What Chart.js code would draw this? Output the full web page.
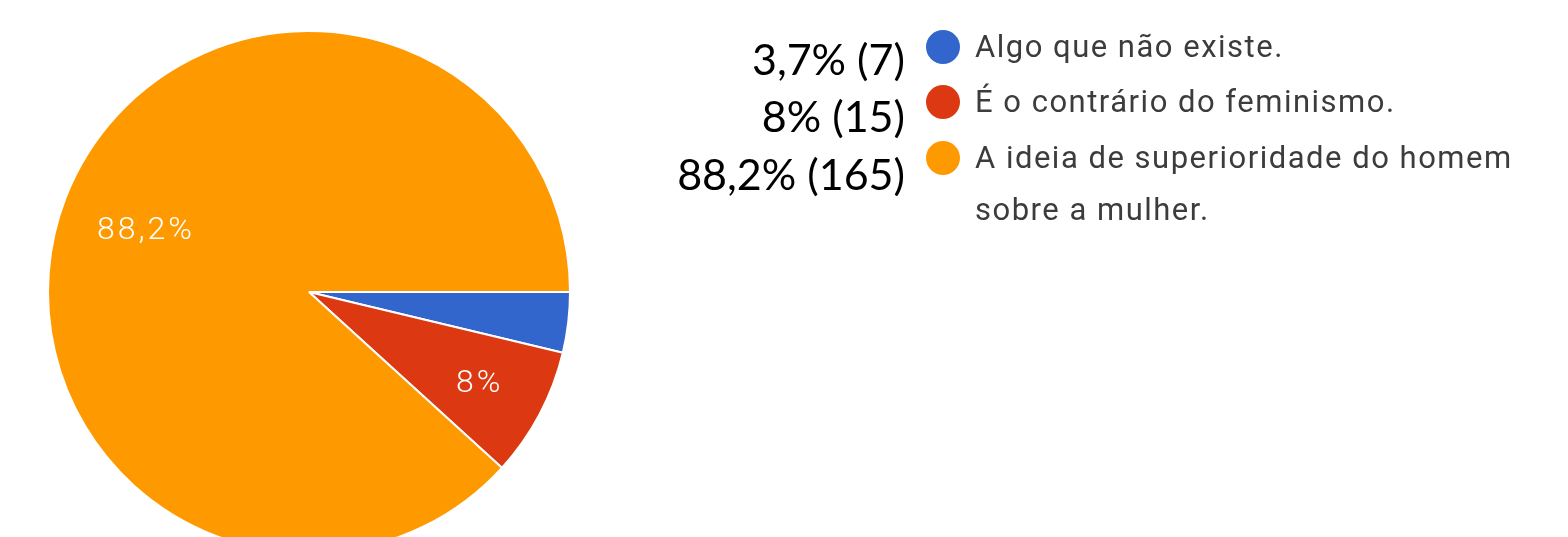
<!DOCTYPE html>
<html>
<head>
<meta charset="utf-8">
<script src="https://cdn.jsdelivr.net/npm/chart.js@4/dist/chart.umd.min.js"></script>
<style>
  html, body { margin: 0; padding: 0; background: #fff; overflow: hidden; width: 1568px; height: 537px; }
  #wrap { position: absolute; left: 0; top: 0; width: 1568px; height: 600px; }
  #legend { position: absolute; left: 0; top: 0; width: 1568px; height: 537px; pointer-events: none; }
  .num { position: absolute; right: 663px; font-family: Lato, "Open Sans", sans-serif; font-size: 43px; color: #000; line-height: 1; white-space: nowrap; }
  .dot { position: absolute; width: 34px; height: 34px; border-radius: 50%; }
  .lab { position: absolute; left: 975px; font-family: Roboto, Arial, sans-serif; font-size: 31px; letter-spacing: 1.5px; color: #3c3c3c; line-height: 52px; white-space: nowrap; }
</style>
</head>
<body>
<div id="wrap"><canvas id="c" width="1568" height="600"></canvas></div>
<div id="legend"></div>
<script>
// ---- data ----
const categories = [
  ['Algo que não existe.'],
  ['É o contrário do feminismo.'],
  ['A ideia de superioridade do homem', 'sobre a mulher.']
];
const counts = [7, 15, 165];
const percentText = ['3,7%', '8%', '88,2%'];
const sliceLabels = [null, '8%', '88,2%'];
const colors = ['#3366CC', '#DC3912', '#FF9900'];

// ---- slice label plugin ----
const sliceLabelPlugin = {
  id: 'sliceLabels',
  afterDatasetsDraw(chart, args, opts) {
    const ctx = chart.ctx;
    const meta = chart.getDatasetMeta(0);
    ctx.save();
    ctx.fillStyle = '#fff';
    ctx.font = '300 32px Roboto, Arial, sans-serif';
    ctx.letterSpacing = '3px';
    ctx.textAlign = 'center';
    ctx.textBaseline = 'middle';
    meta.data.forEach((arc, i) => {
      const t = sliceLabels[i];
      if (!t) return;
      const p = arc.getProps(['x', 'y', 'startAngle', 'endAngle', 'outerRadius'], true);
      const mid = (p.startAngle + p.endAngle) / 2;
      const r = p.outerRadius * opts.frac[i];
      ctx.fillText(t, p.x + Math.cos(mid) * r, p.y + Math.sin(mid) * r + 2);
    });
    ctx.restore();
  }
};

new Chart(document.getElementById('c'), {
  type: 'pie',
  data: {
    labels: categories,
    datasets: [{
      data: counts,
      backgroundColor: colors,
      borderColor: '#ffffff',
      borderWidth: 2,
      hoverOffset: 0
    }]
  },
  options: {
    responsive: false,
    animation: false,
    rotation: 90,
    radius: 261,
    layout: { padding: { left: 48, top: 31, right: 998, bottom: 47 } },
    plugins: {
      legend: { display: false },
      tooltip: { enabled: false },
      sliceLabels: { frac: [0.7, 0.74, 0.67] }
    }
  },
  plugins: [sliceLabelPlugin]
});

// ---- HTML legend ----
const legend = document.getElementById('legend');
const rowTop = [21, 76, 132];
const numTop = [37, 94, 152];
categories.forEach((lines, i) => {
  const n = document.createElement('div');
  n.className = 'num';
  n.style.top = numTop[i] + 'px';
  n.textContent = percentText[i] + ' (' + counts[i] + ')';
  legend.appendChild(n);
  const d = document.createElement('div');
  d.className = 'dot';
  d.style.background = colors[i];
  d.style.left = '926px';
  d.style.top = (rowTop[i] + 9) + 'px';
  legend.appendChild(d);
  const l = document.createElement('div');
  l.className = 'lab';
  l.style.top = rowTop[i] + 'px';
  l.innerHTML = lines.map(s => s.replace(/&/g, '&amp;').replace(/</g, '&lt;')).join('<br>');
  legend.appendChild(l);
});
</script>
</body>
</html>
